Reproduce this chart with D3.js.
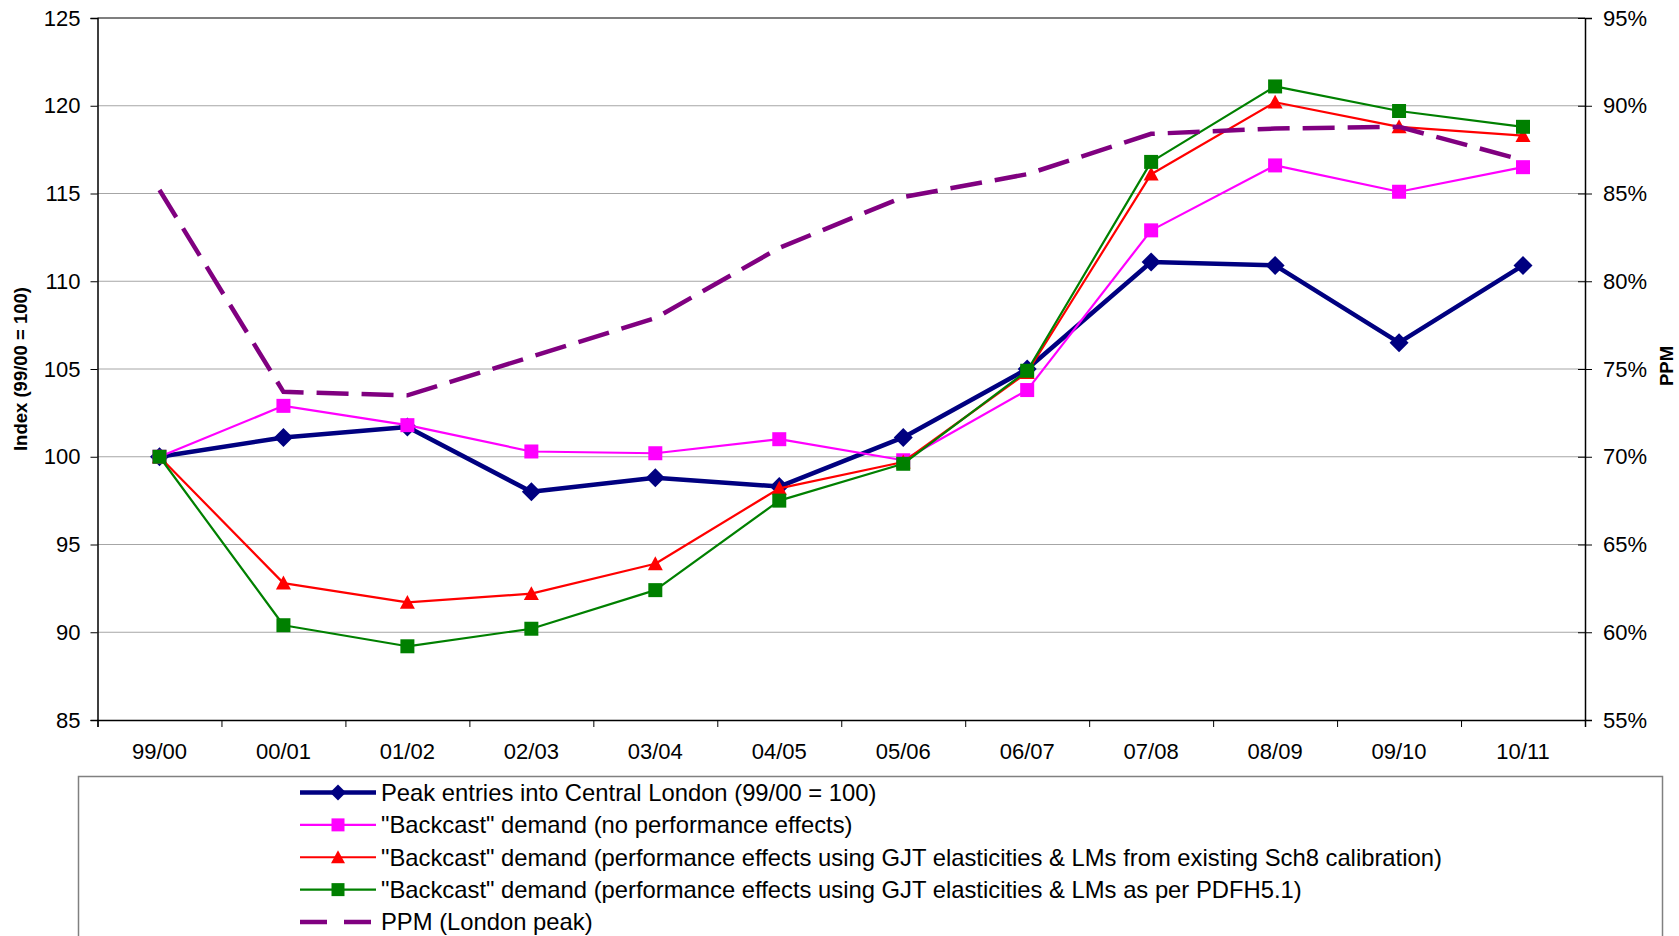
<!DOCTYPE html>
<html>
<head>
<meta charset="utf-8">
<script src="https://cdn.jsdelivr.net/npm/d3@7"></script>
<style>
  html, body { margin: 0; padding: 0; background: #fff; }
  svg { display: block; font-family: "Liberation Sans", Arial, sans-serif; }
</style>
</head>
<body>
<svg id="chart" width="1679" height="936"></svg>
<script>
// ---------- DATA ----------
const categories = ["99/00","00/01","01/02","02/03","03/04","04/05","05/06","06/07","07/08","08/09","09/10","10/11"];
const peakEntries = [100, 101.1, 101.7, 98.0, 98.8, 98.3, 101.1, 105.0, 111.1, 110.9, 106.5, 110.9];
const backcastNoPerf = [100, 102.9, 101.8, 100.3, 100.2, 101.0, 99.8, 103.8, 112.9, 116.6, 115.1, 116.5];
const backcastSch8 = [100, 92.8, 91.7, 92.2, 93.9, 98.2, 99.7, 104.8, 116.1, 120.2, 118.8, 118.3];
const backcastPDFH = [100, 90.4, 89.2, 90.2, 92.4, 97.5, 99.6, 104.9, 116.8, 121.1, 119.7, 118.8];
const ppm = [0.852, 0.737, 0.735, 0.757, 0.779, 0.819, 0.848, 0.861, 0.884, 0.887, 0.888, 0.869];
const leftTicks = [85, 90, 95, 100, 105, 110, 115, 120, 125];
const rightTicks = [0.55, 0.60, 0.65, 0.70, 0.75, 0.80, 0.85, 0.90, 0.95];
const seriesNames = [
  "Peak entries into Central London (99/00 = 100)",
  "\"Backcast\" demand (no performance effects)",
  "\"Backcast\" demand (performance effects using GJT elasticities & LMs from existing Sch8 calibration)",
  "\"Backcast\" demand (performance effects using GJT elasticities & LMs as per PDFH5.1)",
  "PPM (London peak)"
];
const leftTitle = "Index (99/00 = 100)";
const rightTitle = "PPM";

// ---------- LAYOUT ----------
const svg = d3.select("#chart");
const L = 97.5, R = 1585, T = 18, B = 720;
const FS = 22;
const LFS = 23.8;
const TFS = 18.5;

const x = d3.scaleBand().domain(categories).range([L, R]).paddingInner(0).paddingOuter(0);
const xb = d3.scaleLinear().domain([0, categories.length]).range([L, R]);
const yL = d3.scaleLinear().domain([85, 125]).range([B, T]);
const yR = d3.scaleLinear().domain([0.55, 0.95]).range([B, T]);
const cx = c => x(c) + x.bandwidth() / 2;

// gridlines
svg.append("g").selectAll("line").data(leftTicks.filter(t => t !== 85 && t !== 125)).join("line")
  .attr("x1", L).attr("x2", R).attr("y1", d => yL(d)).attr("y2", d => yL(d))
  .attr("stroke", "#a6a6a6").attr("stroke-width", 1);
// top border
svg.append("line").attr("x1", L).attr("x2", R).attr("y1", T).attr("y2", T)
  .attr("stroke", "#555").attr("stroke-width", 1.5);

// Left axis
const gL = svg.append("g").attr("transform", `translate(${L},0)`)
  .call(d3.axisLeft(yL).tickValues(leftTicks).tickSize(7).tickPadding(10).tickFormat(d3.format("d")));
gL.select(".domain").attr("stroke", "#000").attr("stroke-width", 1.5);
gL.selectAll(".tick line").attr("stroke", "#000");
gL.selectAll("text").attr("font-size", FS).attr("fill", "#000").attr("font-family", "Liberation Sans, Arial, sans-serif");

// Right axis
const gR = svg.append("g").attr("transform", `translate(${R},0)`)
  .call(d3.axisRight(yR).tickValues(rightTicks).tickSize(7).tickPadding(11).tickFormat(d3.format(".0%")));
gR.select(".domain").attr("stroke", "#000").attr("stroke-width", 1.5);
gR.selectAll(".tick line").attr("stroke", "#000").attr("x1", -7);
gR.selectAll("text").attr("font-size", FS).attr("fill", "#000").attr("font-family", "Liberation Sans, Arial, sans-serif");

// Bottom axis ticks at band boundaries
const gB = svg.append("g").attr("transform", `translate(0,${B})`)
  .call(d3.axisBottom(xb).ticks(categories.length).tickSize(7).tickFormat(""));
gB.select(".domain").attr("stroke", "#000").attr("stroke-width", 1.5);
gB.selectAll(".tick line").attr("stroke", "#000");
// labels
const gBL = svg.append("g").attr("transform", `translate(0,${B})`)
  .call(d3.axisBottom(x).tickSize(0).tickPadding(23));
gBL.select(".domain").remove();
gBL.selectAll("text").attr("font-size", FS).attr("fill", "#000").attr("font-family", "Liberation Sans, Arial, sans-serif");

// axis titles
svg.append("text").attr("transform", `translate(27,369) rotate(-90)`)
  .attr("text-anchor", "middle").attr("font-size", TFS).attr("font-weight", "bold").text(leftTitle);
svg.append("text").attr("transform", `translate(1673,366) rotate(-90)`)
  .attr("text-anchor", "middle").attr("font-size", TFS).attr("font-weight", "bold").text(rightTitle);

// ---------- SERIES ----------
const lineL = d3.line().x((d, i) => cx(categories[i])).y(d => yL(d));
const lineR = d3.line().x((d, i) => cx(categories[i])).y(d => yR(d));

const series = [
  { data: peakEntries, color: "#000080", width: 4.5, marker: "diamond", size: 19 },
  { data: backcastNoPerf, color: "#FF00FF", width: 2.2, marker: "square", size: 14 },
  { data: backcastSch8, color: "#FF0000", width: 2.2, marker: "triangle", size: 15 },
  { data: backcastPDFH, color: "#008000", width: 2.2, marker: "square", size: 14 },
];

function markerPath(type, s) {
  const h = s / 2;
  if (type === "diamond") return `M0,${-h}L${h},0L0,${h}L${-h},0Z`;
  if (type === "square") return `M${-h},${-h}H${h}V${h}H${-h}Z`;
  if (type === "triangle") return `M0,${-h}L${h},${h*0.85}L${-h},${h*0.85}Z`;
  return "";
}

series.forEach(s => {
  const g = svg.append("g");
  g.append("path").attr("d", lineL(s.data)).attr("fill", "none")
    .attr("stroke", s.color).attr("stroke-width", s.width).attr("stroke-linejoin", "round");
  g.selectAll("path.m").data(s.data).join("path").attr("class", "m")
    .attr("transform", (d, i) => `translate(${cx(categories[i])},${yL(d)})`)
    .attr("d", markerPath(s.marker, s.size)).attr("fill", s.color);
});

svg.append("path").attr("d", lineR(ppm)).attr("fill", "none")
  .attr("stroke", "#800080").attr("stroke-width", 4.5).attr("stroke-dasharray", "32,13");

// ---------- LEGEND ----------
const lg = svg.append("g");
lg.append("rect").attr("x", 78.5).attr("y", 776.5).attr("width", 1584).attr("height", 200)
  .attr("fill", "#fff").attr("stroke", "#808080").attr("stroke-width", 1.5);
const legendRows = [
  { color: "#000080", width: 4.5, marker: "diamond", size: 16, dash: null },
  { color: "#FF00FF", width: 2.2, marker: "square", size: 13, dash: null },
  { color: "#FF0000", width: 2.2, marker: "triangle", size: 14, dash: null },
  { color: "#008000", width: 2.2, marker: "square", size: 13, dash: null },
  { color: "#800080", width: 4.5, marker: null, size: 0, dash: "27,17" },
];
const rowY = d3.scaleLinear().domain([0, 4]).range([792.5, 922]);
legendRows.forEach((r, i) => {
  const y = rowY(i);
  lg.append("line").attr("x1", 300).attr("x2", 376).attr("y1", y).attr("y2", y)
    .attr("stroke", r.color).attr("stroke-width", r.width)
    .attr("stroke-dasharray", r.dash);
  if (r.marker) lg.append("path").attr("transform", `translate(338,${y})`)
    .attr("d", markerPath(r.marker, r.size)).attr("fill", r.color);
  lg.append("text").attr("x", 381).attr("y", y).attr("dy", "0.35em")
    .attr("font-size", LFS).attr("fill", "#000").text(seriesNames[i]);
});
</script>
</body>
</html>
